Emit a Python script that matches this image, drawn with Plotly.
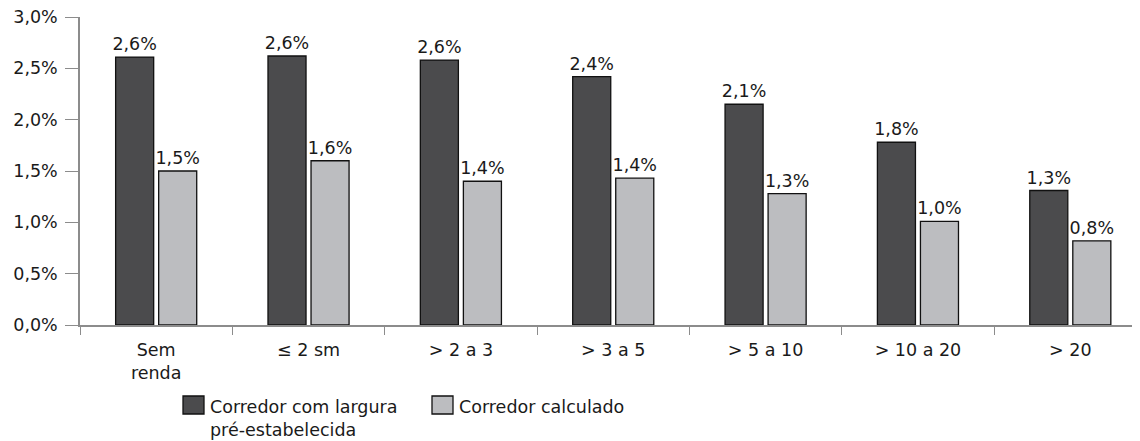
import plotly.graph_objects as go

categories = ["Sem<br>renda", "≤ 2 sm", "> 2 a 3", "> 3 a 5", "> 5 a 10", "> 10 a 20", "> 20"]
series_names = ["Corredor com largura pré-estabelecida", "Corredor calculado"]
legend_texts = ["Corredor com largura<br>pré-estabelecida", "Corredor calculado"]
pre_estabelecida = [2.61, 2.62, 2.58, 2.42, 2.15, 1.78, 1.31]
calculado = [1.50, 1.60, 1.40, 1.43, 1.28, 1.01, 0.82]
labels_pre = ["2,6%", "2,6%", "2,6%", "2,4%", "2,1%", "1,8%", "1,3%"]
labels_calc = ["1,5%", "1,6%", "1,4%", "1,4%", "1,3%", "1,0%", "0,8%"]
y_ticks = [0.0, 0.5, 1.0, 1.5, 2.0, 2.5, 3.0]
y_ticktext = ["0,0%", "0,5%", "1,0%", "1,5%", "2,0%", "2,5%", "3,0%"]

FONT = "DejaVu Sans"
FS = 17.5
DARK = "#4b4b4d"
LIGHT = "#bcbdc0"
AXIS = "#8c8c8c"
TXT = "#1a1a1a"

W, H = 1140, 441
OFF = 8  # page body margin
ML, MT, MB, MR = 72, 9, 124, 0
PW = W - ML - MR
PH = H - MT - MB

fig = go.Figure()
fig.add_trace(go.Bar(
    x=categories, y=pre_estabelecida, name=series_names[0],
    marker=dict(color=DARK, line=dict(color="#111111", width=1.3)),
    text=labels_pre, textposition="outside", cliponaxis=False, constraintext="none",
    textfont=dict(family=FONT, size=FS, color=TXT),
))
fig.add_trace(go.Bar(
    x=categories, y=calculado, name=series_names[1],
    marker=dict(color=LIGHT, line=dict(color="#111111", width=1.3)),
    text=labels_calc, textposition="outside", cliponaxis=False, constraintext="none",
    textfont=dict(family=FONT, size=FS, color=TXT),
))

fig.update_layout(
    width=W, height=H,
    margin=dict(l=ML, r=MR, t=MT, b=MB, autoexpand=False),
    paper_bgcolor="white", plot_bgcolor="white",
    barmode="group", bargap=0.435, bargroupgap=0.116,
    showlegend=False,
    font=dict(family=FONT, size=FS, color=TXT),
    xaxis=dict(
        range=[-0.5, 6.51], showline=True, linecolor=AXIS, linewidth=1.5,
        ticks="outside", tickson="boundaries", ticklen=8, tickcolor=AXIS, tickwidth=1,
        ticklabelstandoff=8,
        showgrid=False, zeroline=False, tickfont=dict(family=FONT, size=FS, color=TXT),
    ),
    yaxis=dict(
        range=[0, 3.0], tickvals=y_ticks, ticktext=y_ticktext,
        showline=True, linecolor=AXIS, linewidth=1.5,
        ticks="outside", ticklen=13, tickcolor=AXIS, tickwidth=1,
        ticklabelstandoff=4, ticklabeloverflow="allow",
        showgrid=False, zeroline=False, tickfont=dict(family=FONT, size=FS, color=TXT),
    ),
)


def px(xs):
    return (xs - OFF - ML) / PW


def py(ys):
    return (H - MB - (ys - OFF)) / PH


# manual legend with larger swatches (screen pixel coordinates)
legend_items = [(legend_texts[0], DARK, 183), (legend_texts[1], LIGHT, 432)]
for text, color, x0 in legend_items:
    fig.add_shape(type="rect", xref="paper", yref="paper",
                  x0=px(x0), x1=px(x0 + 21), y0=py(414), y1=py(396),
                  fillcolor=color, line=dict(color="#111111", width=1.3))
    fig.add_annotation(xref="paper", yref="paper",
                       x=px(x0 + 25), y=py(395),
                       text=text, showarrow=False, xanchor="left", yanchor="top",
                       align="left", font=dict(family=FONT, size=FS, color=TXT))

fig.write_html("out.html")
